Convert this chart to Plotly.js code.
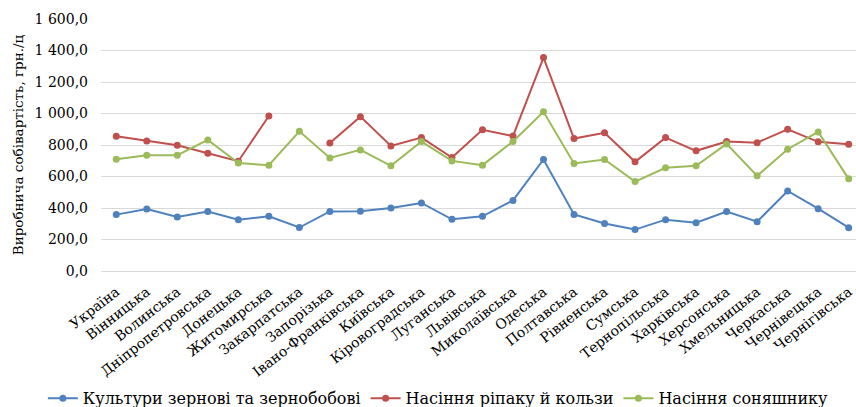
<!DOCTYPE html>
<html>
<head>
<meta charset="utf-8">
<script src="https://cdn.plot.ly/plotly-3.0.1.min.js"></script>
<style>
  html, body { margin: 0; padding: 0; background: #fff; overflow: hidden; }
  #chart { width: 856px; height: 407px; }
</style>
</head>
<body>
<div id="chart"></div>
<script>
// Regions of Ukraine
const regions = [
  'Україна', 'Вінницька', 'Волинська', 'Дніпропетровська', 'Донецька',
  'Житомирська', 'Закарпатська', 'Запорізька', 'Івано-Франківська', 'Київська',
  'Кіровоградська', 'Луганська', 'Львівська', 'Миколаївська', 'Одеська',
  'Полтавська', 'Рівненська', 'Сумська', 'Тернопільська', 'Харківська',
  'Херсонська', 'Хмельницька', 'Черкаська', 'Чернівецька', 'Чернігівська'
];

// Production cost, UAH per centner
const grain = [358, 394, 343, 378, 326, 347, 276, 378, 380, 400, 432, 328, 347, 448, 708,
               359, 302, 263, 326, 307, 377, 313, 508, 396, 275];
const rapeseed = [855, 826, 798, 748, 697, 984, null, 813, 980, 794, 847, 720, 897, 857, 1355,
                  841, 877, 693, 847, 763, 822, 815, 900, 820, 805];
const sunflower = [710, 735, 735, 832, 685, 672, 887, 718, 769, 668, 822, 699, 672, 822, 1011,
                   683, 708, 568, 655, 668, 807, 604, 773, 883, 585];

const seriesNames = ['Культури зернові та зернобобові', 'Насіння ріпаку й кользи', 'Насіння соняшнику'];

const yTickVals = [0, 200, 400, 600, 800, 1000, 1200, 1400, 1600];
const yTickText = ['0,0', '200,0', '400,0', '600,0', '800,0', '1 000,0', '1 200,0', '1 400,0', '1 600,0'];

const xIdx = regions.map((_, i) => i);

function line(name, y, color) {
  return {
    type: 'scatter', mode: 'lines+markers', name: name,
    x: xIdx, y: y,
    line: { color: color, width: 2 },
    marker: { color: color, size: 7 },
    connectgaps: false,
    cliponaxis: false
  };
}

const data = [
  line(seriesNames[0], grain, '#4F81BD'),
  line(seriesNames[1], rapeseed, '#C0504D'),
  line(seriesNames[2], sunflower, '#9BBB59')
];

const serif = 'DejaVu Serif';

const layout = {
  width: 856, height: 407,
  margin: { l: 101, r: 0, t: 19, b: 135.5, autoexpand: false },
  paper_bgcolor: '#fff', plot_bgcolor: '#fff',
  font: { family: serif, color: '#000' },
  showlegend: true,
  legend: {
    orientation: 'h', x: -0.077, xanchor: 'left', y: -0.505, yanchor: 'middle',
    font: { family: serif, size: 16, color: '#000' },
    bgcolor: 'rgba(0,0,0,0)', itemclick: false
  },
  xaxis: {
    range: [-0.5, 24.24],
    tickvals: xIdx, ticktext: regions,
    tickangle: -38,
    tickfont: { family: serif, size: 14, color: '#000' },
    showgrid: false, zeroline: false,
    showline: false, ticks: '',
    ticklabelstandoff: 9,
    ticklabeloverflow: 'allow',
    automargin: false,
    fixedrange: true
  },
  yaxis: {
    range: [0, 1600],
    tickvals: yTickVals, ticktext: yTickText,
    tickfont: { family: serif, size: 14, color: '#000' },
    showgrid: true, gridcolor: '#D9D9D9', gridwidth: 1,
    zeroline: true, zerolinecolor: '#D9D9D9', zerolinewidth: 1,
    showline: false, ticks: '',
    ticklabelstandoff: 12,
    automargin: false,
    title: { text: 'Виробнича собівартість, грн./ц', font: { family: serif, size: 13.5, color: '#000' }, standoff: 7 },
    fixedrange: true
  }
};

Plotly.newPlot('chart', data, layout, { displayModeBar: false, staticPlot: true });
</script>
</body>
</html>
